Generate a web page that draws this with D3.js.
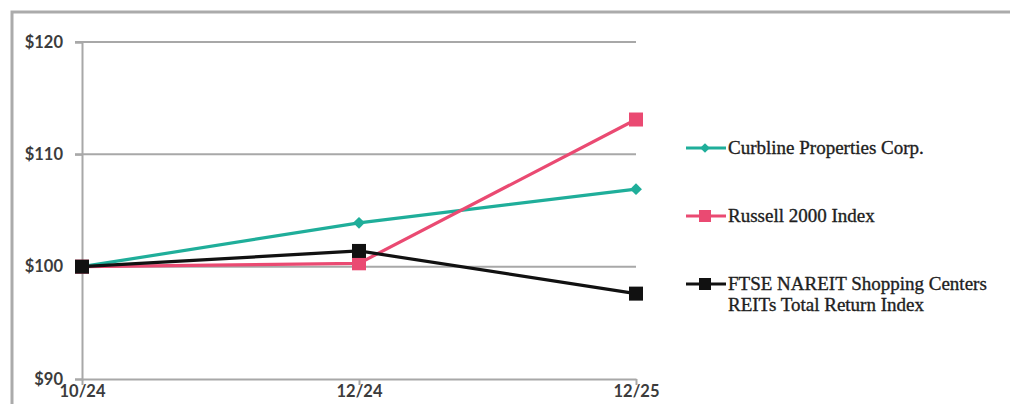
<!DOCTYPE html>
<html><head><meta charset="utf-8">
<script src="https://cdn.jsdelivr.net/npm/d3@7"></script>
<style>html,body{margin:0;padding:0;background:#fff;overflow:hidden}</style>
</head><body><svg id="c" width="1010" height="404"></svg>
<script>
const categories = ["10/24", "12/24", "12/25"];
const curbline = [100, 103.9, 106.9];
const russell = [100, 100.3, 113.1];
const ftse = [100, 101.4, 97.6];
const yTicks = [90, 100, 110, 120];
const seriesNames = ["Curbline Properties Corp.", "Russell 2000 Index", "FTSE NAREIT Shopping Centers|REITs Total Return Index"];

const svg = d3.select("#c");
svg.append("rect").attr("x",12).attr("y",12).attr("width",1020).attr("height",420)
  .attr("fill","#fff").attr("stroke","#ababab").attr("stroke-width",3);

const x = d3.scalePoint().domain(categories).range([82, 636]);
const y = d3.scaleLinear().domain([90, 120]).range([379, 42]);

// gridlines
svg.append("g").selectAll("line").data(yTicks.filter(d=>d>90)).join("line")
  .attr("x1",75).attr("x2",636).attr("y1",d=>y(d)).attr("y2",d=>y(d))
  .attr("stroke","#a8a8a8").attr("stroke-width",2);

// y axis
const yAxis = svg.append("g").attr("transform","translate(82,0)")
  .call(d3.axisLeft(y).tickValues(yTicks).tickSize(7).tickFormat(d=>"$"+d));
yAxis.select(".domain").attr("stroke","#a8a8a8").attr("stroke-width",2);
yAxis.selectAll(".tick line").attr("stroke","#a8a8a8").attr("stroke-width",2);
yAxis.selectAll("text").attr("font-family","Lato, sans-serif").attr("font-weight",700)
  .attr("font-size",16.5).attr("fill","#3c3c3c").attr("x",-19);

// x axis
const xAxis = svg.append("g").attr("transform","translate(0,379)")
  .call(d3.axisBottom(x).tickSize(6).tickSizeOuter(0));
xAxis.select(".domain").attr("stroke","#a8a8a8").attr("stroke-width",2);
xAxis.selectAll(".tick line").attr("stroke","#a8a8a8").attr("stroke-width",2);
xAxis.selectAll("text").attr("font-family","Lato, sans-serif").attr("font-weight",700)
  .attr("font-size",16.5).attr("fill","#3c3c3c").attr("dy","0.6em").attr("y",8);

const series = [
  {vals: curbline, color: "#1fae9a", marker: "diamond"},
  {vals: russell, color: "#ea4a72", marker: "square"},
  {vals: ftse, color: "#111111", marker: "square"}
];
const line = d3.line().x((d,i)=>x(categories[i])).y(d=>y(d));
series.forEach(s=>{
  svg.append("path").datum(s.vals).attr("d",line).attr("fill","none")
    .attr("stroke",s.color).attr("stroke-width",3.2);
});
series.forEach(s=>{
  const g = svg.append("g");
  if (s.marker==="square") {
    g.selectAll("rect").data(s.vals).join("rect")
      .attr("x",(d,i)=>x(categories[i])-7).attr("y",d=>y(d)-7)
      .attr("width",14).attr("height",14).attr("fill",s.color);
  } else {
    g.selectAll("path").data(s.vals).join("path")
      .attr("d",d3.symbol().type(d3.symbolDiamond2).size(90))
      .attr("transform",(d,i)=>`translate(${x(categories[i])},${y(d)})`).attr("fill",s.color);
  }
});

// legend
const legY = [148, 216, 284];
series.forEach((s,i)=>{
  const g = svg.append("g").attr("transform",`translate(686,${legY[i]})`);
  g.append("line").attr("x1",0).attr("x2",40).attr("stroke",s.color).attr("stroke-width",3.2);
  if (s.marker==="square") g.append("rect").attr("x",13).attr("y",-6).attr("width",12).attr("height",12).attr("fill",s.color);
  else g.append("path").attr("d",d3.symbol().type(d3.symbolDiamond2).size(60)).attr("transform","translate(19,0)").attr("fill",s.color);
  const t = g.append("text").attr("x",42).attr("font-family","'Liberation Serif', serif")
    .attr("font-size",19).attr("fill","#1e1e1e").attr("stroke","#1e1e1e").attr("stroke-width",0.35);
  seriesNames[i].split("|").forEach((ln,j)=>{
    t.append("tspan").attr("x",42).attr("dy", j===0 ? "0.33em" : "1.08em").text(ln);
  });
});
</script></body></html>
